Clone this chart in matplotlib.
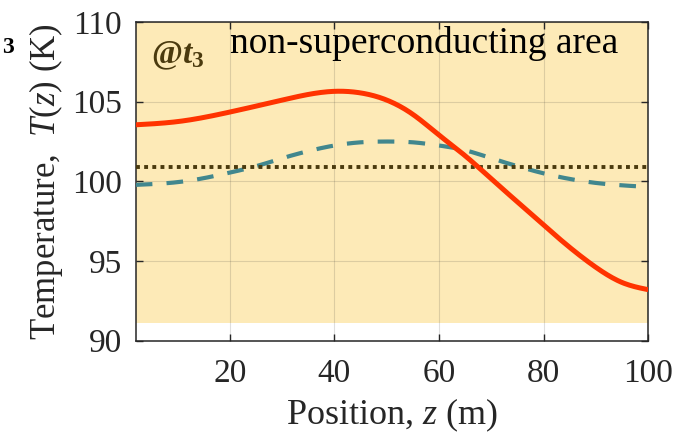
import numpy as np
import matplotlib
matplotlib.use('Agg')
import matplotlib.pyplot as plt

plt.rcParams['font.family'] = 'Liberation Serif'
plt.rcParams['mathtext.fontset'] = 'custom'
plt.rcParams['mathtext.rm'] = 'Liberation Serif'
plt.rcParams['mathtext.it'] = 'Liberation Serif:italic'
plt.rcParams['mathtext.bf'] = 'Liberation Serif:bold'
plt.rcParams['mathtext.bfit'] = 'Liberation Serif:bold:italic'

# solid red curve
z_red = [2, 10, 20, 30, 40, 45, 50, 55, 60, 65, 70, 75, 80, 85, 90, 95, 100]
T_red = [103.55, 103.75, 104.35, 105.1, 105.65, 105.55, 105.1, 104.2, 102.9,
         101.6, 100.15, 98.7, 97.25, 95.85, 94.6, 93.65, 93.2]

# dashed teal curve
z_teal = [2, 10, 15, 20, 25, 30, 35, 40, 45, 50, 55, 60, 65, 70, 75, 80, 85, 90, 95, 100]
T_teal = [99.78, 99.95, 100.2, 100.55, 100.95, 101.45, 101.9, 102.25, 102.45, 102.5,
          102.45, 102.25, 101.95, 101.45, 100.95, 100.5, 100.15, 99.9, 99.75, 99.65]

# dotted constant level
T_dot = 100.9
# shaded band (non-superconducting area)
band_lo, band_hi = 91.13, 110.0

xticks = [20, 40, 60, 80, 100]
yticks = [90, 95, 100, 105, 110]

def smooth(x, y, n=300):
    # natural cubic spline through the read points
    x = np.asarray(x, float); y = np.asarray(y, float)
    h = np.diff(x)
    nn = len(x)
    A = np.zeros((nn, nn)); b = np.zeros(nn)
    A[0, 0] = A[-1, -1] = 1
    for i in range(1, nn - 1):
        A[i, i-1] = h[i-1]; A[i, i] = 2*(h[i-1]+h[i]); A[i, i+1] = h[i]
        b[i] = 3*((y[i+1]-y[i])/h[i] - (y[i]-y[i-1])/h[i-1])
    c = np.linalg.solve(A, b)
    xs = np.linspace(x[0], x[-1], n)
    idx = np.clip(np.searchsorted(x, xs) - 1, 0, nn - 2)
    dx = xs - x[idx]
    bb = (y[idx+1]-y[idx])/h[idx] - h[idx]*(2*c[idx]+c[idx+1])/3
    d = (c[idx+1]-c[idx])/(3*h[idx])
    return xs, y[idx] + bb*dx + c[idx]*dx**2 + d*dx**3

fig = plt.figure(figsize=(6.95, 4.36), dpi=100)
ax = fig.add_axes([0.1953, 0.2186, 0.9328-0.1953, 0.9495-0.2186])

ax.fill_between([2, 100], band_lo, band_hi, color='#FDEAB7', lw=0, zorder=0.5)

xs, ys = smooth(z_teal, T_teal)
ax.plot(xs, ys, color='#41878E', lw=3.0, dashes=(4.0, 3.4), zorder=3)
ax.axhline(T_dot, color='#4A3A0E', lw=2.8, dashes=(1.0, 1.1), zorder=3)
xs, ys = smooth(z_red, T_red)
ax.plot(xs, ys, color='#FF3300', lw=3.6, solid_capstyle='butt', zorder=4)

ax.set_xlim(2, 100)
ax.set_ylim(90, 110)
ax.set_xticks(xticks)
ax.set_yticks(yticks)
ax.grid(True, color='#262626', alpha=0.15, lw=0.8)
ax.tick_params(direction='in', top=True, right=True, length=5, width=1.0,
               colors='#262626', labelsize=24, labelcolor='#262626')
ax.tick_params(axis='x', pad=13)
ax.tick_params(axis='y', pad=10)
for s in ax.spines.values():
    s.set_color('#262626')
    s.set_linewidth(1.1)

ax.set_xlabel(r'Position, $z$ (m)', fontsize=26, color='#262626', labelpad=5)
ax.set_ylabel(r'Temperature,  $T$($z$) (K)', fontsize=25, color='#262626', labelpad=5)

ax.text(0.184, 0.903, 'non-superconducting area', transform=ax.transAxes,
        fontsize=27, color='black', ha='left', va='baseline')
ax.text(0.03, 0.895, r'$\mathbf{@}\mathbfit{t}_{\mathbf{3}}$', transform=ax.transAxes,
        fontsize=24, color='#4A3A0E', ha='left', va='center')

fig.text(2/695, 1-53/436, '3', fontsize=17, fontweight='bold', ha='left', va='baseline')

fig.savefig('out.png', dpi=100)
